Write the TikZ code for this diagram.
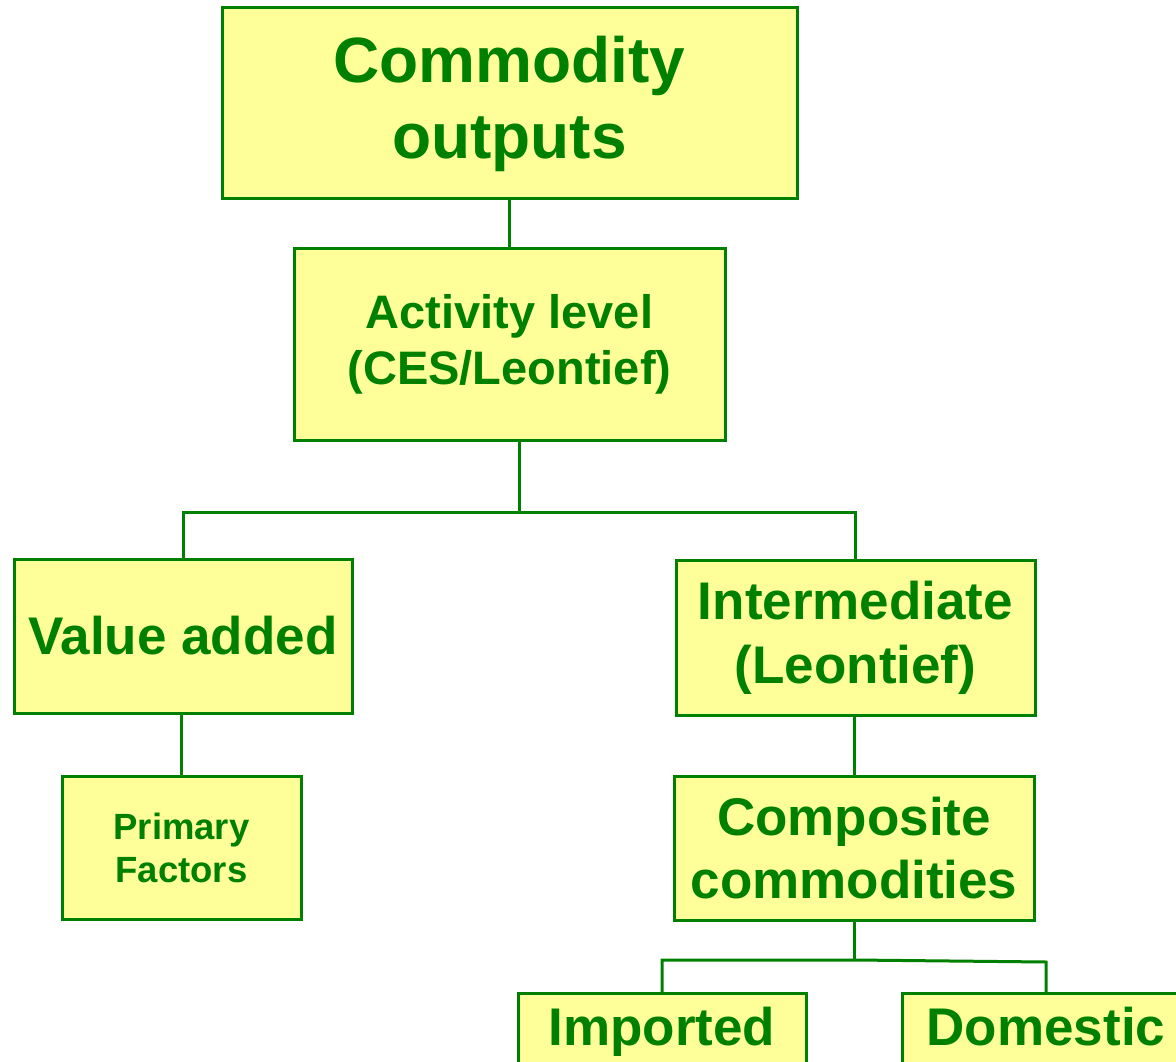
\documentclass[tikz,border=0pt]{standalone}
\usepackage{fontspec}
\setmainfont{Liberation Sans}
\definecolor{boxfill}{HTML}{FFFF99}
\definecolor{boxline}{HTML}{008000}
\begin{document}
\begin{tikzpicture}[x=1pt,y=-1pt,
  box/.style={draw=boxline, fill=boxfill, line width=3pt, inner sep=0pt, align=center, text=boxline, font=\bfseries},
  link/.style={draw=boxline, line width=3pt}]
\useasboundingbox (0,0) rectangle (1176,1062);
\clip (0,0) rectangle (1176,1062);
\node[box, minimum width=575pt, minimum height=191pt, font=\bfseries\fontsize{64}{76}\selectfont] (top) at (509.5,103.5) {Commodity\\outputs};
\node[box, minimum width=431pt, minimum height=192pt, font=\bfseries\fontsize{47}{56}\selectfont] (act) at (509.5,344) {Activity level\\(CES/Leontief)};
\node[box, minimum width=338pt, minimum height=154pt, font=\bfseries\fontsize{53}{64}\selectfont] (va) at (183,636) {Value added};
\node[box, minimum width=239pt, minimum height=143pt, font=\bfseries\fontsize{36.5}{43}\selectfont] (prim) at (181.5,847.5) {Primary\\Factors};
\node[box, minimum width=359pt, minimum height=155pt, font=\bfseries\fontsize{53}{64}\selectfont] (inter) at (855.5,637.5) {Intermediate\\(Leontief)};
\node[box, minimum width=360pt, minimum height=144pt, font=\bfseries\fontsize{53}{63}\selectfont] (comp) at (854,848) {Composite\\commodities};
\node[box, anchor=north, minimum width=288pt, text height=52pt, text depth=100pt, font=\bfseries\fontsize{53}{63}\selectfont] (imp) at (662,992) {Imported};
\node[box, anchor=north, minimum width=288pt, text height=52pt, text depth=100pt, font=\bfseries\fontsize{53}{63}\selectfont] (dom) at (1046,992) {Domestic};
\coordinate (j1) at (519,512);
\coordinate (j2) at (854,960);
\coordinate (j3) at (1046,962);
\draw[link] (top.south) -- (act.north);
\draw[link] (act.south -| j1) -- (j1);
\draw[link] (va.north) |- (j1) -| (inter.north);
\draw[link] (va.south -| prim.north) -- (prim.north);
\draw[link] (inter.south -| comp.north) -- (comp.north);
\draw[link] (comp.south) -- (j2);
\draw[link] (imp.north) |- (j2) -- (j3) -- (dom.north);
\end{tikzpicture}
\end{document}
